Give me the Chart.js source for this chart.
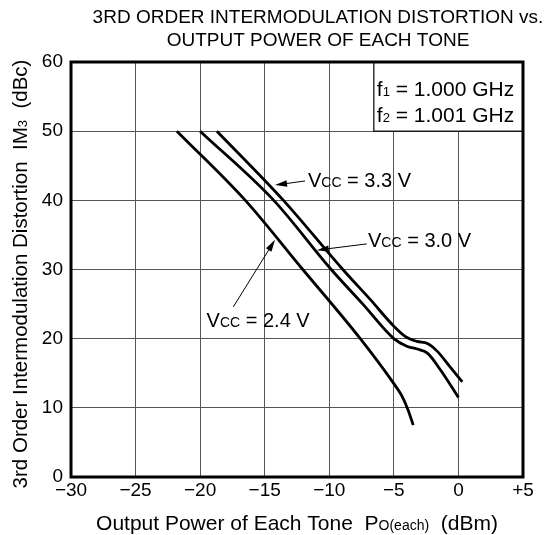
<!DOCTYPE html>
<html>
<head>
<meta charset="utf-8">
<script src="https://cdn.jsdelivr.net/npm/chart.js@4/dist/chart.umd.min.js"></script>
<style>
    html, body { margin: 0; padding: 0; background: #fff; }
    .canvas { width: 556px; height: 535px; }
</style>
</head>
<body>
<div class="canvas"><canvas id="imdChart" width="556" height="535"></canvas></div>
<script>
// data (x = dBm, y = dBc)
const xTicks = [-30, -25, -20, -15, -10, -5, 0, 5];
const xTickLabels = ['\u221230', '\u221225', '\u221220', '\u221215', '\u221210', '\u22125', '0', '+5'];
const yTicks = [0, 10, 20, 30, 40, 50, 60];

const pout33 = [-18.7, -13.55, -8.95, -6.8, -5.0, -4.1, -3.2, -2.4, -1.65, -0.6, 0.3];
const im3_33 = [50, 40, 30, 25.6, 21.8, 20.3, 19.6, 19.3, 18.2, 15.8, 13.75];

const pout30 = [-20.0, -14.3, -9.85, -7.4, -5.0, -4.0, -3.2, -2.4, -1.4, 0];
const im3_30 = [50, 40, 30, 25, 20.0, 18.9, 18.5, 17.9, 15.5, 11.5];

const pout24 = [-21.8, -16.5, -12.05, -7.6, -5.0, -4.4, -3.9, -3.5];
const im3_24 = [50, 40, 30, 20, 13.5, 11.8, 9.7, 7.5];

const curveNames = ['3.3 V', '3.0 V', '2.4 V'];

const FONT = '"Liberation Sans", Arial, sans-serif';

function pts(xs, ys) {
    return xs.map((x, i) => ({ x: x, y: ys[i] }));
}

// draw a line of text made of pieces with different sizes
function drawRich(ctx, parts, x, y, align) {
    let total = 0;
    parts.forEach(p => {
        ctx.font = p[1] + 'px ' + FONT;
        total += ctx.measureText(p[0]).width;
    });
    let cx = x;
    if (align === 'center') cx = x - total / 2;
    if (align === 'right') cx = x - total;
    ctx.textAlign = 'left';
    ctx.textBaseline = 'alphabetic';
    parts.forEach(p => {
        ctx.font = p[1] + 'px ' + FONT;
        ctx.fillText(p[0], cx, y + (p[2] || 0));
        cx += ctx.measureText(p[0]).width;
    });
}

function arrow(ctx, x1, y1, x2, y2) {
    // line from (x1,y1) with head at (x2,y2)
    const ang = Math.atan2(y2 - y1, x2 - x1);
    const len = 12, wid = 3.2;
    ctx.beginPath();
    ctx.moveTo(x1, y1);
    ctx.lineTo(x2 - Math.cos(ang) * len * 0.8, y2 - Math.sin(ang) * len * 0.8);
    ctx.lineWidth = 1;
    ctx.strokeStyle = '#000';
    ctx.stroke();
    ctx.beginPath();
    ctx.moveTo(x2, y2);
    ctx.lineTo(x2 - Math.cos(ang) * len - Math.sin(ang) * wid, y2 - Math.sin(ang) * len + Math.cos(ang) * wid);
    ctx.lineTo(x2 - Math.cos(ang) * len + Math.sin(ang) * wid, y2 - Math.sin(ang) * len - Math.cos(ang) * wid);
    ctx.closePath();
    ctx.fillStyle = '#000';
    ctx.fill();
}

const decorations = {
    id: 'decorations',
    afterDraw(chart) {
        const ctx = chart.ctx;
        const a = chart.chartArea;
        const xs = chart.scales.x, ys = chart.scales.y;
        ctx.save();
        ctx.fillStyle = '#000';

        // title
        ctx.font = '19px ' + FONT;
        ctx.textAlign = 'center';
        ctx.textBaseline = 'alphabetic';
        ctx.fillText('3RD ORDER INTERMODULATION DISTORTION vs.', 318, 23);
        ctx.fillText('OUTPUT POWER OF EACH TONE', 318, 46);

        // frequency box
        const bl = xs.getPixelForValue(-6.55);
        const bb = ys.getPixelForValue(50);
        ctx.fillStyle = '#fff';
        ctx.fillRect(bl, a.top, a.right - bl, bb - a.top);
        ctx.strokeStyle = '#000';
        ctx.lineWidth = 1.2;
        ctx.strokeRect(bl, a.top, a.right - bl, bb - a.top);
        ctx.fillStyle = '#000';
        drawRich(ctx, [['f', 21], ['1', 13], [' = 1.000 GHz', 21]], bl + 3, 96);
        drawRich(ctx, [['f', 21], ['2', 13], [' = 1.001 GHz', 21]], bl + 3, 122);

        // frame
        ctx.lineWidth = 3;
        ctx.strokeRect(a.left, a.top, a.right - a.left, a.bottom - a.top);

        // curve labels with arrows
        const labels = [
            { name: curveNames[0], tip: [-14.2, 42.2], tail: [-11.88, 42.8], text: [-11.65, 42.9] },
            { name: curveNames[1], tip: [-10.97, 32.8], tail: [-7.1, 33.7], text: [-7.0, 34.3] },
            { name: curveNames[2], tip: [-14.2, 34.3], tail: [-17.43, 24.6], text: [-19.5, 22.7] },
        ];
        labels.forEach(l => {
            arrow(ctx, xs.getPixelForValue(l.tail[0]), ys.getPixelForValue(l.tail[1]),
                xs.getPixelForValue(l.tip[0]), ys.getPixelForValue(l.tip[1]));
            ctx.fillStyle = '#000';
            drawRich(ctx, [['V', 20], ['CC', 14], [' = ' + l.name, 20]],
                xs.getPixelForValue(l.text[0]), ys.getPixelForValue(l.text[1]) + 7);
        });

        // axis titles
        drawRich(ctx, [['Output Power of Each Tone  P', 21], ['O(each)', 14], ['  (dBm)', 21]], 297, 530, 'center');
        ctx.translate(27, 274);
        ctx.rotate(-Math.PI / 2);
        drawRich(ctx, [['3rd Order Intermodulation Distortion  IM', 20.5], ['3', 13], ['  (dBc)', 20.5]], 0, 0, 'center');
        ctx.restore();
    },
};

const lineStyle = {
    showLine: true,
    borderColor: '#000',
    borderWidth: 2.8,
    pointRadius: 0,
    fill: false,
    cubicInterpolationMode: 'monotone',
};

new Chart(document.getElementById('imdChart'), {
    type: 'scatter',
    data: {
        datasets: [
            { label: 'Vcc = ' + curveNames[0], data: pts(pout33, im3_33), ...lineStyle },
            { label: 'Vcc = ' + curveNames[1], data: pts(pout30, im3_30), ...lineStyle },
            { label: 'Vcc = ' + curveNames[2], data: pts(pout24, im3_24), ...lineStyle },
        ],
    },
    options: {
        responsive: false,
        animation: false,
        events: [],
        layout: { padding: { left: 21, right: 33, top: 62, bottom: 0 } },
        plugins: { legend: { display: false }, title: { display: false }, tooltip: { enabled: false } },
        scales: {
            x: {
                type: 'linear',
                min: -30,
                max: 5,
                afterFit: s => { s.height = 58; },
                afterBuildTicks: s => { s.ticks = xTicks.map(v => ({ value: v })); },
                ticks: {
                    color: '#000',
                    font: { family: FONT, size: 19 },
                    padding: 2,
                    maxRotation: 0,
                    callback: v => xTickLabels[xTicks.indexOf(v)],
                },
                grid: { color: '#555', lineWidth: 1, drawTicks: false },
                border: { display: false },
            },
            y: {
                type: 'linear',
                min: 0,
                max: 60,
                afterFit: s => { s.width = 50; },
                afterBuildTicks: s => { s.ticks = yTicks.map(v => ({ value: v })); },
                ticks: {
                    color: '#000',
                    font: { family: FONT, size: 19 },
                    padding: 8,
                },
                grid: { color: '#555', lineWidth: 1, drawTicks: false },
                border: { display: false },
            },
        },
    },
    plugins: [decorations],
});
</script>
</body>
</html>
